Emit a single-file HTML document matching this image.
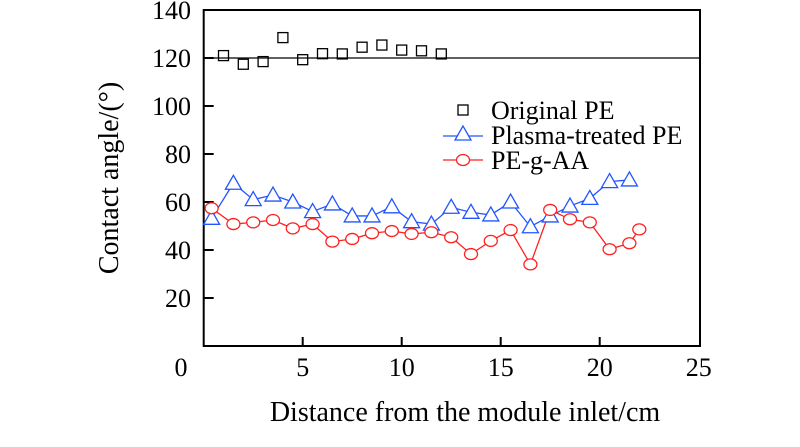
<!DOCTYPE html>
<html><head><meta charset="utf-8"><style>
body{margin:0;background:#fff;}
svg text{font-family:"Liberation Serif",serif;fill:#000;}
</style></head><body>
<svg width="800" height="442" viewBox="0 0 800 442">
<g id="axes"></g><g id="marks"></g><g id="legend"></g>
</svg>
<script>
const xTicks=[0,5,10,15,20,25];
const yTicks=[0,20,40,60,80,100,120,140];
const origX=[1,2,3,4,5,6,7,8,9,10,11,12];
const origY=[121,117.4,118.5,128.5,119.3,121.8,121.7,124.5,125.4,123.3,123,121.7];
const plasmaX=[0.4,1.5,2.5,3.5,4.5,5.5,6.5,7.5,8.5,9.5,10.5,11.5,12.5,13.5,14.5,15.5,16.5,17.5,18.5,19.5,20.5,21.5];
const plasmaY=[53.2,67.8,61,62.9,60,56,59.2,54.2,54.2,58,51.8,50.8,57.8,55.7,54.6,60,49.7,54.2,58.3,61.5,68.5,69.2];
const aaX=[0.4,1.5,2.5,3.5,4.5,5.5,6.5,7.5,8.5,9.5,10.5,11.5,12.5,13.5,14.5,15.5,16.5,17.5,18.5,19.5,20.5,21.5,22];
const aaY=[57.4,50.8,51.5,52.5,49,50.8,43.5,44.6,47,47.9,46.7,47.4,45.3,38.3,43.8,48.3,34,56.7,52.8,51.5,40.3,42.8,48.6];
const refLine=120;
const L=203.7,R=700,T=10,B=346;
const sx=v=>L+v*19.8, sy=v=>B-v*2.4;
const NS="http://www.w3.org/2000/svg";
function mk(parent,tag,attrs,text){const e=document.createElementNS(NS,tag);for(const k in attrs)e.setAttribute(k,attrs[k]);if(text!==undefined)e.textContent=text;parent.appendChild(e);return e;}
const ax=document.getElementById('axes'),mg=document.getElementById('marks'),lg=document.getElementById('legend');
let fr=mk(ax,'rect',{x:L,y:T,width:R-L,height:B-T,fill:'none',stroke:'#000','stroke-width':2});


xTicks.forEach(t=>{
 if(t>0&&t<25){let l=mk(ax,'line',{x1:sx(t),x2:sx(t),y1:B,y2:B-9,stroke:'#000','stroke-width':2});
 
 }
 let tx=mk(ax,'text',{x:t===0?181:sx(t),y:376,'font-size':26,'text-anchor':'middle'},String(t));
 
 
});
yTicks.forEach(t=>{
 if(t>0&&t<140){let l=mk(ax,'line',{x1:L,x2:L+10,y1:sy(t),y2:sy(t),stroke:'#000','stroke-width':2});
 
 }
 if(t>0){let tx=mk(ax,'text',{x:191,y:sy(t)+9,'font-size':26,'text-anchor':'end'},String(t));
 
 }
});
let xt=mk(ax,'text',{x:465,y:421,'font-size':28,'text-anchor':'middle'},'Distance from the module inlet/cm');


let yt=mk(ax,'text',{x:0,y:0,'font-size':28,'text-anchor':'middle',transform:'translate(118,178) rotate(-90)'},'Contact angle/(°)');


let rl=mk(mg,'line',{x1:L,x2:R,y1:sy(refLine),y2:sy(refLine),stroke:'#000','stroke-width':1.3});


origX.forEach((x,i)=>{let r=mk(mg,'rect',{x:sx(x)-5,y:sy(origY[i])-5,width:10,height:10,fill:'none',stroke:'#000','stroke-width':1.3});
 
 });
function tri(g,cx,cy,c){return mk(g,'polygon',{points:`${cx},${cy-8} ${cx-8},${cy+6} ${cx+8},${cy+6}`,fill:'#fff',stroke:c,'stroke-width':1.3});}
let pl=mk(mg,'polyline',{points:plasmaX.map((x,i)=>sx(x)+','+sy(plasmaY[i])).join(' '),fill:'none',stroke:'#2255ff','stroke-width':1.3});


let al=mk(mg,'polyline',{points:aaX.map((x,i)=>sx(x)+','+sy(aaY[i])).join(' '),fill:'none',stroke:'#ff2020','stroke-width':1.3});


plasmaX.forEach((x,i)=>{let p=tri(mg,sx(x),sy(plasmaY[i]),'#2255ff');
 
 });
aaX.forEach((x,i)=>{let c=mk(mg,'ellipse',{cx:sx(x),cy:sy(aaY[i]),rx:6.5,ry:5.5,fill:'#fff',stroke:'#ff2020','stroke-width':1.3});
 
 });
let s=mk(lg,'rect',{x:458,y:105,width:10,height:10,fill:'none',stroke:'#000','stroke-width':1.3});


let t1=mk(lg,'text',{x:491,y:119,'font-size':26},'Original PE');


let l2=mk(lg,'line',{x1:443,x2:483,y1:136,y2:136,stroke:'#2255ff','stroke-width':1.3});


let m2=tri(lg,463,134,'#2255ff');


let t2=mk(lg,'text',{x:491,y:144,'font-size':26},'Plasma-treated PE');


let l3=mk(lg,'line',{x1:443,x2:483,y1:160,y2:160,stroke:'#ff2020','stroke-width':1.3});


let m3=mk(lg,'ellipse',{cx:463,cy:160,rx:6.5,ry:5.5,fill:'#fff',stroke:'#ff2020','stroke-width':1.3});


let t3=mk(lg,'text',{x:491,y:169,'font-size':26},'PE-g-AA');


</script>
</body></html>
